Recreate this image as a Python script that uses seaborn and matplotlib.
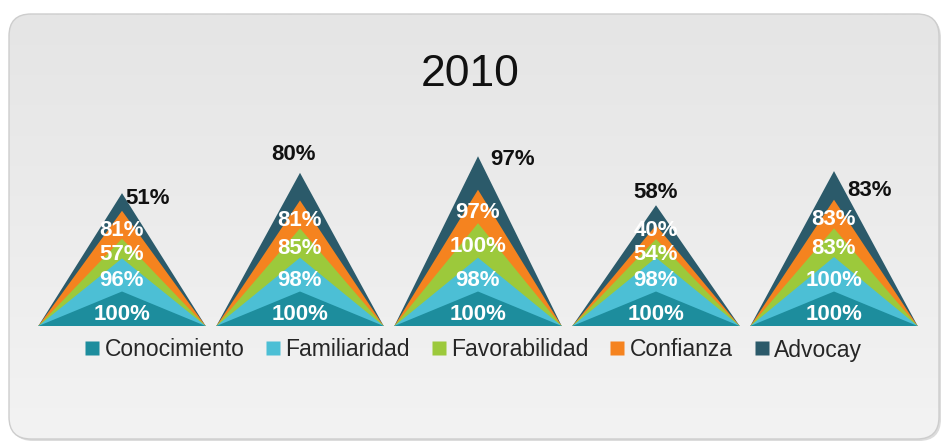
import numpy as np
import matplotlib
matplotlib.use("Agg")
import matplotlib.pyplot as plt
from matplotlib.patches import FancyBboxPatch
from matplotlib.lines import Line2D
import seaborn as sns

# Brand funnel, 2010: one nested triangle per brand, layers stacked bottom-up
stages = ["Conocimiento", "Familiaridad", "Favorabilidad", "Confianza", "Advocay"]
conocimiento = [100, 100, 100, 100, 100]
familiaridad = [96, 98, 98, 98, 100]
favorabilidad = [57, 85, 100, 54, 83]
confianza = [81, 81, 97, 40, 83]
advocay = [51, 80, 97, 58, 83]
title = "2010"

series = [conocimiento, familiaridad, favorabilidad, confianza, advocay]
colors = sns.color_palette(["#1d8d9d", "#4cbfd5", "#9cc93b", "#f5831f", "#2b5a6a"])

# offsets (px) of the outer-layer label from each apex
top_dx = [26, -6, 35, 0, 36]
top_dy = [-5, 18, -3, 13, -19]

sns.set_theme(style="white")
plt.rcParams["font.family"] = ["Liberation Sans", "DejaVu Sans"]

W, H = 944, 442
fig = plt.figure(figsize=(W / 100, H / 100), dpi=100)
fig.patch.set_facecolor("white")

# rounded panel with a soft vertical gradient
bg = fig.add_axes([0, 0, 1, 1], zorder=0)
bg.set_xlim(0, W)
bg.set_ylim(H, 0)
bg.axis("off")
shadow = FancyBboxPatch((11, 16), 930, 425, boxstyle="round,pad=0,rounding_size=22",
                        facecolor="#dcdcdc", edgecolor="none", transform=bg.transData)
bg.add_patch(shadow)
panel = FancyBboxPatch((9, 14), 930, 425, boxstyle="round,pad=0,rounding_size=22",
                       facecolor="none", edgecolor="#cdcdcd", linewidth=1.0,
                       transform=bg.transData)
grad = np.linspace(0, 1, 256).reshape(-1, 1)
cmap = matplotlib.colors.LinearSegmentedColormap.from_list("panel", ["#e5e5e5", "#f3f3f3"])
img = bg.imshow(grad, extent=(9, 939, 439, 14), cmap=cmap, aspect="auto", zorder=1)
img.set_clip_path(panel)
bg.add_patch(panel)
panel.set_zorder(2)

# chart area
left_px, right_px = 33, 923
base_px, top_px = 326, 119
ax = fig.add_axes([left_px / W, (H - base_px) / H, (right_px - left_px) / W,
                   (base_px - top_px) / H], zorder=2)
ax.set_facecolor("none")
ax.set_xlim(-0.5, 4.5)
ax.set_ylim(0, 600)
ax.axis("off")

stack = np.cumsum(np.array(series, dtype=float), axis=0)
half = 0.47
n_groups = stack.shape[1]

# outermost layer first so that inner triangles sit on top
for layer in range(len(series) - 1, -1, -1):
    for g in range(n_groups):
        xs = [g - half, g, g + half]
        ys = [0, stack[layer, g], 0]
        ax.fill(xs, ys, color=colors[layer], linewidth=0, zorder=3 + (len(series) - layer))

# value labels: centred in each band, nudged apart where bands are thin
label_drop = 17      # data units
min_gap = 68         # data units between consecutive inner labels
for g in range(n_groups):
    prev = -np.inf
    for layer in range(len(series) - 1):
        lower = stack[layer - 1, g] if layer > 0 else 0
        y = (lower + stack[layer, g]) / 2 - label_drop
        y = max(y, prev + min_gap)
        prev = y
        ax.text(g, y, f"{series[layer][g]}%", ha="center", va="center",
                fontsize=16, fontweight="bold", color="white", zorder=20)
    ax.annotate(f"{series[-1][g]}%", (g, stack[-1, g]),
                xytext=(top_dx[g] * 0.72, top_dy[g] * 0.72), textcoords="offset points",
                ha="center", va="center", fontsize=16, fontweight="bold",
                color="#111111", zorder=20)

fig.text(470 / W, (H - 74) / H, title, ha="center", va="center", fontsize=32, color="#111111")

handles = [Line2D([0], [0], marker="s", linestyle="none", markersize=10,
                  markerfacecolor=c, markeredgecolor="none") for c in colors]
fig.legend(handles, stages, loc="center left", bbox_to_anchor=(85 / W, (H - 350) / H),
           ncol=5, frameon=False, fontsize=16.5, handlelength=0.6, handletextpad=0.25,
           columnspacing=0.95, borderaxespad=0, borderpad=0)

fig.savefig("out.png", dpi=100, facecolor="white")
